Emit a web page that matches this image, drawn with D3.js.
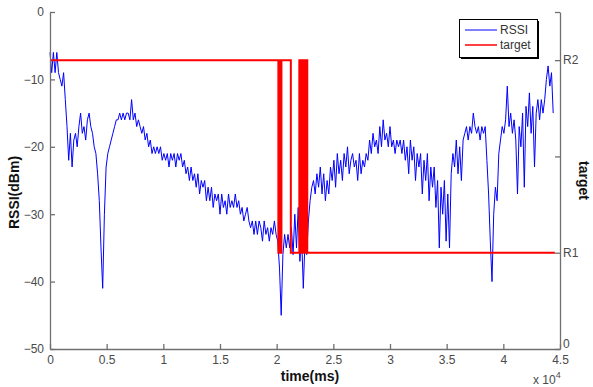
<!DOCTYPE html>
<html><head><meta charset="utf-8">
<script src="https://cdn.jsdelivr.net/npm/d3@7"></script>
<style>body{margin:0;background:#fff}svg{display:block}</style>
</head><body>
<svg id="c" width="593" height="387"></svg>
<script>
// ---- data ----
const timeStep = 150; // ms between RSSI samples
const rssi = [
 -6,-9,-6,-9,-6,-9,-10,-11,-9,-13,
 -17,-22,-18,-23,-19,-18,-20,-17,-15,-18,
 -17,-19,-16,-15,-17,-18,-20,-21,-24,-28,
 -35,-41,-30,-23,-21,-20,-19,-18,-17,-16,
 -16,-15,-16,-15,-16,-15,-15,-16,-13,-16,
 -15,-17,-16,-17,-18,-17,-19,-18,-20,-19,
 -21,-20,-21,-20,-21,-20,-22,-21,-22,-21,
 -23,-21,-22,-21,-23,-21,-22,-21,-23,-22,
 -24,-23,-25,-23,-25,-24,-26,-24,-27,-25,
 -26,-25,-28,-26,-28,-26,-29,-27,-28,-27,
 -30,-27,-29,-28,-30,-27,-29,-28,-29,-27,
 -29,-28,-30,-29,-31,-30,-29,-31,-32,-31,
 -33,-31,-33,-31,-32,-34,-31,-33,-32,-34,
 -32,-33,-31,-33,-34,-38,-45,-36,-33,-35,
 -33,-35,-32,-36,-30,-35,-29,-37,-33,-41,
 -34,-36,-31,-28,-26,-25,-27,-24,-26,-23,
 -27,-24,-28,-25,-27,-23,-25,-22,-26,-21,
 -24,-22,-25,-21,-23,-20,-24,-22,-21,-23,
 -22,-25,-21,-24,-22,-23,-21,-22,-19,-21,
 -18,-20,-19,-21,-17,-20,-16,-19,-18,-20,
 -17,-20,-19,-21,-19,-20,-19,-21,-19,-22,
 -20,-24,-19,-22,-20,-25,-21,-23,-21,-27,
 -22,-25,-21,-28,-23,-26,-23,-29,-25,-35,
 -26,-30,-25,-34,-27,-35,-24,-21,-23,-19,
 -24,-20,-25,-19,-18,-17,-19,-17,-18,-15,
 -17,-18,-17,-19,-17,-18,-17,-22,-27,-34,
 -40,-30,-26,-28,-21,-19,-17,-18,-16,-11,
 -17,-15,-18,-16,-19,-27,-17,-20,-15,-26,
 -14,-17,-12,-18,-14,-23,-15,-13,-16,-13,
 -15,-13,-10,-8,-11,-9,-15
];
const targetTime  = [0, 20150, 20250, 20350, 20420, 21250, 22000, 22100, 22200, 22300, 22400, 22500, 22600, 22700, 44550];
const targetLevel = [3, 1, 3, 1, 3, 1, 3, 1, 3, 1, 3, 1, 3, 1, 1];
const xTicks = [0, 5000, 10000, 15000, 20000, 25000, 30000, 35000, 40000, 45000];
const xTickLabels = ["0", "0.5", "1", "1.5", "2", "2.5", "3", "3.5", "4", "4.5"];
const yLeftTicks = [0, -10, -20, -30, -40, -50];
const yRightTicks = [0, 1, 2, 3, 3.5];
const yRightLabels = ["0", "R1", "", "R2", ""];
const legendItems = ["RSSI", "target"];
const seriesColors = ["#0000ff", "#ff0000"];

// ---- chart ----
const svg = d3.select("#c");
const L = 50, R = 560, T = 12, B = 349;
const x = d3.scaleLinear().domain([0, 45000]).range([L, R]);
const yL = d3.scaleLinear().domain([-50, 0]).range([B, T]);
const yR = d3.scaleLinear().domain([0, 3.5]).range([B, T]);

const axisCol = "#707070", tickTxt = "#4a4a4a";
function styleAxis(g){
  g.selectAll("path,line").attr("stroke", axisCol).attr("stroke-width", 1.3);
  g.selectAll("text").attr("fill", tickTxt).attr("font-family", "Liberation Sans, Arial, sans-serif").attr("font-size", 12);
}

// lines
const rssiLine = d3.line().x((d,i) => x(i*timeStep)).y(d => yL(d));
svg.append("path").datum(rssi).attr("d", rssiLine)
  .attr("fill","none").attr("stroke", seriesColors[0]).attr("stroke-width", 1);

const tgt = targetTime.map((t,i) => [t, targetLevel[i]]);
const tgtLine = d3.line().x(d => x(d[0])).y(d => yR(d[1])).curve(d3.curveStepAfter);
svg.append("path").datum(tgt).attr("d", tgtLine)
  .attr("fill","none").attr("stroke", seriesColors[1]).attr("stroke-width", 2);

// axes
svg.append("g").attr("transform", `translate(${L},0)`)
  .call(d3.axisLeft(yL).tickValues(yLeftTicks).tickFormat(d3.format("d")).tickSize(-5).tickSizeOuter(0).tickPadding(6))
  .call(styleAxis);
svg.append("g").attr("transform", `translate(0,${B})`)
  .call(d3.axisBottom(x).tickValues(xTicks).tickFormat((d,i) => xTickLabels[i]).tickSize(-5).tickSizeOuter(0).tickPadding(6))
  .call(styleAxis);
const ra = svg.append("g").attr("transform", `translate(${R},0)`)
  .call(d3.axisRight(yR).tickValues(yRightTicks).tickFormat((d,i) => yRightLabels[i]).tickSize(-5).tickSizeOuter(0).tickPadding(3))
  .call(styleAxis);
ra.selectAll(".tick").filter(d => d === 0).select("text").attr("y", -5);

// axis titles
const ff = "Liberation Sans, Arial, sans-serif";
svg.append("text").attr("x", (L+R)/2 + 5).attr("y", 381).attr("text-anchor","middle")
  .attr("font-family", ff).attr("font-size", 14).attr("font-weight","bold").attr("fill","#111").text("time(ms)");
svg.append("text").attr("transform", `translate(19,${(T+B)/2 + 12}) rotate(-90)`).attr("text-anchor","middle")
  .attr("font-family", ff).attr("font-size", 14).attr("font-weight","bold").attr("fill","#111").text("RSSI(dBm)");
svg.append("text").attr("transform", `translate(579,${(T+B)/2}) rotate(90)`).attr("text-anchor","middle")
  .attr("font-family", ff).attr("font-size", 14).attr("font-weight","bold").attr("fill","#111").text("target");
const ex = svg.append("text").attr("x", 533).attr("y", 384).attr("font-family", ff).attr("font-size", 12).attr("fill", tickTxt);
ex.append("tspan").text("x 10");
ex.append("tspan").attr("font-size", 9).attr("dy", -6).text("4");

// legend
const lg = svg.append("g");
lg.append("rect").attr("x", 461).attr("y", 21).attr("width", 78).attr("height", 38).attr("fill", "#000");
lg.append("rect").attr("x", 459.5).attr("y", 19.5).attr("width", 78).attr("height", 38).attr("fill", "#fff").attr("stroke", "#000").attr("stroke-width", 1);
legendItems.forEach((name, i) => {
  const yy = 30 + i*15;
  lg.append("line").attr("x1", 465).attr("x2", 497).attr("y1", yy).attr("y2", yy)
    .attr("stroke", seriesColors[i]).attr("stroke-width", i === 0 ? 1 : 1.5);
  lg.append("text").attr("x", 500).attr("y", yy).attr("dy", "0.35em")
    .attr("font-family", ff).attr("font-size", 12).attr("fill", "#333").text(name);
});
</script>
</body></html>
